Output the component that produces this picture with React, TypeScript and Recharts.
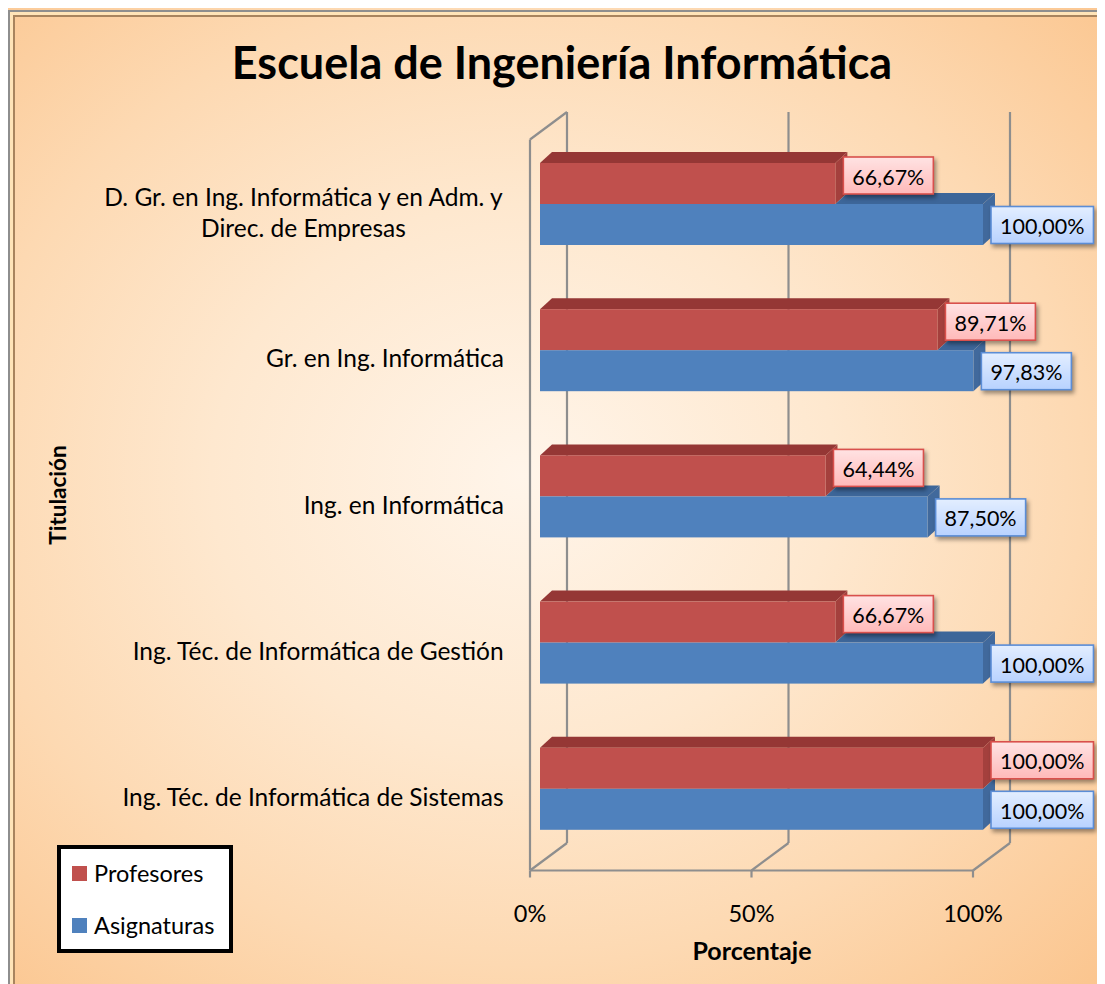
import React from 'react';
import { BarChart, Bar, XAxis, YAxis, CartesianGrid, LabelList, Legend } from 'recharts';

// ---------- data ----------
const categories = [
  'D. Gr. en Ing. Informática y en Adm. y Direc. de Empresas',
  'Gr. en Ing. Informática',
  'Ing. en Informática',
  'Ing. Téc. de Informática de Gestión',
  'Ing. Téc. de Informática de Sistemas',
];
const profesores = [66.67, 89.71, 64.44, 66.67, 100.0];
const asignaturas = [100.0, 97.83, 87.5, 100.0, 100.0];
const xTicks = [0, 50, 100];
const seriesNames = ['Profesores', 'Asignaturas'];
const titleText = 'Escuela de Ingeniería Informática';
const xTitle = 'Porcentaje';
const yTitle = 'Titulación';

const data = categories.map((c, i) => ({
  name: c,
  profesores: profesores[i],
  asignaturas: asignaturas[i],
}));

// ---------- layout / style ----------
const W = 1097;
const H = 976;
const PLOT_LEFT = 532;
const PLOT_TOP = 123;
const PLOT_W = 443;
const PLOT_H = 731;
const X_AXIS_H = 40;
const FONT = 'Lato, "Open Sans", sans-serif';
const CAT_FS = 24.5;
const LBL_FS = 21.5;
const TICK_FS = 23.5;

const RED = '#C0504D';
const RED_TOP = '#953735';
const RED_SIDE = '#A4403D';
const BLUE = '#4F81BD';
const BLUE_TOP = '#3D6699';
const BLUE_SIDE = '#41699C';
const GRID = '#8E8E8E';

const DX = 12;
const DY = 11;

let _ctx: CanvasRenderingContext2D | null = null;
function measure(text: string, font: string): number {
  if (!_ctx && typeof document !== 'undefined') {
    _ctx = document.createElement('canvas').getContext('2d');
  }
  if (!_ctx) return text.length * 10;
  _ctx.font = font;
  return _ctx.measureText(text).width;
}
function wrap(text: string, maxW: number, font: string): string[] {
  const words = text.split(' ');
  const lines: string[] = [];
  let cur = '';
  for (const w of words) {
    const t = cur ? cur + ' ' + w : w;
    if (cur && measure(t, font) > maxW) {
      lines.push(cur);
      cur = w;
    } else cur = t;
  }
  if (cur) lines.push(cur);
  return lines;
}
const fmt = (v: number) => v.toFixed(2).replace('.', ',') + '%';

// ---------- grid (3D walls) ----------
const renderGridLine = (props: any) => {
  const { x1, y1, y2, index } = props;
  const bx = x1 + 27;
  const by1 = y1 - 19;
  const by2 = y2 - 19;
  const fx = x1 - 10;
  const fy1 = y1 + 8.5;
  const fy2 = y2 + 8.5;
  const s = { stroke: GRID, strokeWidth: 2.2, fill: 'none' };
  const isFirst = Math.abs(x1 - PLOT_LEFT) < 1;
  return (
    <g key={`grid-${index}`}>
      <line x1={bx} y1={by1} x2={bx} y2={by2} {...s} />
      <line x1={bx} y1={by2} x2={fx} y2={fy2} {...s} />
      {isFirst && <line x1={fx} y1={fy1} x2={fx} y2={fy2} {...s} />}
      {isFirst && <line x1={fx} y1={fy1} x2={bx} y2={by1} {...s} />}
      {isFirst && <line x1={fx} y1={fy2} x2={fx + PLOT_W} y2={fy2} {...s} />}
      <line x1={fx} y1={fy2} x2={fx} y2={fy2 + 7} {...s} />
    </g>
  );
};

// ---------- bar shapes ----------
const RedShape = (props: any) => {
  const { x, y, width, height } = props;
  if (width == null) return null;
  const top = `${x},${y} ${x + DX},${y - DY} ${x + width + DX},${y - DY} ${x + width},${y}`;
  const side = `${x + width},${y} ${x + width + DX},${y - DY} ${x + width + DX},${y + height - DY} ${x + width},${y + height}`;
  return (
    <g>
      <polygon points={top} fill={RED_TOP} />
      <polygon points={side} fill={RED_SIDE} />
      <rect x={x} y={y} width={width} height={height} fill={RED} />
    </g>
  );
};

const BlueShape = (props: any) => {
  const { x, y, width, height, payload } = props;
  if (width == null) return null;
  const redW = payload && payload.asignaturas ? (width * payload.profesores) / payload.asignaturas : width;
  const side = `${x + width},${y} ${x + width + DX},${y - DY} ${x + width + DX},${y + height - DY} ${x + width},${y + height}`;
  const showTop = width - redW > 0.5;
  const top = `${x + redW},${y} ${x + redW + DX},${y - DY} ${x + width + DX},${y - DY} ${x + width},${y}`;
  return (
    <g>
      {showTop && <polygon points={top} fill={BLUE_TOP} />}
      <polygon points={side} fill={BLUE_SIDE} />
      <rect x={x} y={y} width={width} height={height} fill={BLUE} />
    </g>
  );
};

// ---------- labels ----------
const makeLabel = (kind: 'red' | 'blue') => (props: any) => {
  const { x, y, width, height, value, index } = props;
  if (value == null) return null;
  const text = fmt(Number(value));
  const font = `${LBL_FS}px ${FONT}`;
  const tw = measure(text, font);
  const bw = tw + 18;
  const bh = 37;
  const bx = x + width + 8;
  const cy = y + height / 2 + (kind === 'red' ? -8 : 0.5);
  const id = `lg-${kind}-${index}`;
  const c1 = kind === 'red' ? '#FFE3E3' : '#E3EEFF';
  const c2 = kind === 'red' ? '#FFB9B9' : '#B8D2FF';
  const st = kind === 'red' ? '#D9504C' : '#5B8DD6';
  return (
    <g>
      <defs>
        <linearGradient id={id} x1="0" y1="0" x2="0" y2="1">
          <stop offset="0%" stopColor={c1} />
          <stop offset="100%" stopColor={c2} />
        </linearGradient>
      </defs>
      <rect
        x={bx}
        y={cy - bh / 2}
        width={bw}
        height={bh}
        fill={`url(#${id})`}
        stroke={st}
        strokeWidth={1.6}
        style={{ filter: 'drop-shadow(2px 3px 2px rgba(0,0,0,0.4))' }}
      />
      <text
        x={bx + bw / 2}
        y={cy + 1}
        textAnchor="middle"
        dominantBaseline="central"
        fontFamily={FONT}
        fontSize={LBL_FS}
        fill="#000"
      >
        {text}
      </text>
    </g>
  );
};

// ---------- axis ticks ----------
const YTick = (props: any) => {
  const { x, y, payload } = props;
  const font = `${CAT_FS}px ${FONT}`;
  const lines = wrap(String(payload.value), 415, font);
  const widths = lines.map((l) => measure(l, font));
  const maxW = Math.max(...widths);
  const right = x - 34;
  const cx = right - maxW / 2;
  const lh = 31;
  const cy = y + 7.5;
  const startY = cy - ((lines.length - 1) * lh) / 2;
  return (
    <g>
      {lines.map((l, i) => (
        <text
          key={i}
          x={cx}
          y={startY + i * lh}
          textAnchor="middle"
          dominantBaseline="central"
          fontFamily={FONT}
          fontSize={CAT_FS}
          fill="#000"
        >
          {l}
        </text>
      ))}
    </g>
  );
};

const XTick = (props: any) => {
  const { x, payload } = props;
  return (
    <text
      x={x - 10}
      y={PLOT_TOP + PLOT_H + 51}
      textAnchor="middle"
      dominantBaseline="central"
      fontFamily={FONT}
      fontSize={TICK_FS}
      fill="#000"
    >
      {`${payload.value}%`}
    </text>
  );
};

const XTitle = () => (
  <text
    x={744}
    y={942}
    textAnchor="middle"
    dominantBaseline="central"
    fontFamily={FONT}
    fontSize={25}
    fontWeight="bold"
    fill="#000"
  >
    {xTitle}
  </text>
);

const YTitle = () => (
  <text
    x={49}
    y={487}
    transform="rotate(-90 49 487)"
    textAnchor="middle"
    dominantBaseline="central"
    fontFamily={FONT}
    fontSize={22.5}
    fontWeight="bold"
    fill="#000"
  >
    {yTitle}
  </text>
);

// ---------- legend ----------
const LegendBox = (props: any) => {
  const raw = props.payload || [];
  const payload = [...raw].sort(
    (a: any, b: any) => seriesNames.indexOf(a.value) - seriesNames.indexOf(b.value)
  );
  return (
    <div
      style={{
        boxSizing: 'border-box',
        width: 176,
        height: 108,
        border: '4px solid #000',
        background: '#fff',
        position: 'relative',
        fontFamily: FONT,
        fontSize: 23.5,
        color: '#000',
      }}
    >
      {payload.map((p: any, i: number) => (
        <div
          key={i}
          style={{
            position: 'absolute',
            left: 11,
            top: 10 + i * 52,
            height: 28,
            display: 'flex',
            alignItems: 'center',
            whiteSpace: 'nowrap',
          }}
        >
          <span style={{ display: 'inline-block', width: 15, height: 15, background: p.color, marginRight: 7 }} />
          <span>{p.value}</span>
        </div>
      ))}
    </div>
  );
};

export default function App() {
  return (
    <div
      style={{
        position: 'relative',
        width: W,
        height: H,
        overflow: 'hidden',
        background:
          'radial-gradient(ellipse at 47% 48%, #FFF5EA 0%, #FEE8CF 38%, #FDD9B2 68%, #FBC58E 100%)',
      }}
    >
      <style>{'html,body{overflow:hidden}'}</style>
      {/* frame */}
      <div
        style={{
          position: 'absolute',
          left: 0,
          top: 2,
          width: W + 20,
          height: H + 20,
          boxSizing: 'border-box',
          border: '2px solid #8E8E8E',
          pointerEvents: 'none',
        }}
      >
        <div
          style={{
            position: 'absolute',
            inset: 0,
            border: '3px solid #FFE4B8',
          }}
        >
          <div style={{ position: 'absolute', inset: 0, border: '2px solid #A8845E' }} />
        </div>
      </div>
      <div
        style={{
          position: 'absolute',
          left: 0,
          top: 27,
          width: 1108,
          textAlign: 'center',
          fontFamily: FONT,
          fontSize: 45,
          fontWeight: 'bold',
          lineHeight: '54px',
          color: '#000',
          zIndex: 2,
        }}
      >
        {titleText}
      </div>
      <div style={{ position: 'absolute', left: 0, top: 0 }}>
        <BarChart
          width={W}
          height={H}
          data={data}
          layout="vertical"
          barGap={0}
          margin={{ top: PLOT_TOP, right: W - PLOT_LEFT - PLOT_W, bottom: H - PLOT_TOP - PLOT_H - X_AXIS_H, left: 0 }}
        >
          <CartesianGrid horizontal={false} vertical={renderGridLine} stroke={GRID} />
          <XAxis
            type="number"
            domain={[0, 100]}
            ticks={xTicks}
            axisLine={false}
            tickLine={false}
            tickSize={0}
            height={X_AXIS_H}
            tick={XTick}
            label={{ content: XTitle }}
          />
          <YAxis
            type="category"
            dataKey="name"
            width={PLOT_LEFT}
            axisLine={false}
            tickLine={false}
            tickSize={0}
            interval={0}
            tick={YTick}
            label={{ content: YTitle }}
          />
          <Legend
            layout="horizontal"
            verticalAlign="middle"
            align="center"
            content={LegendBox}
            wrapperStyle={{ left: 49, top: 837, width: 176, height: 108 }}
          />
          <Bar
            dataKey="profesores"
            name={seriesNames[0]}
            fill={RED}
            barSize={41}
            shape={RedShape}
            isAnimationActive={false}
          >
            <LabelList dataKey="profesores" content={makeLabel('red')} />
          </Bar>
          <Bar
            dataKey="asignaturas"
            name={seriesNames[1]}
            fill={BLUE}
            barSize={41}
            shape={BlueShape}
            isAnimationActive={false}
          >
            <LabelList dataKey="asignaturas" content={makeLabel('blue')} />
          </Bar>
        </BarChart>
      </div>
    </div>
  );
}
